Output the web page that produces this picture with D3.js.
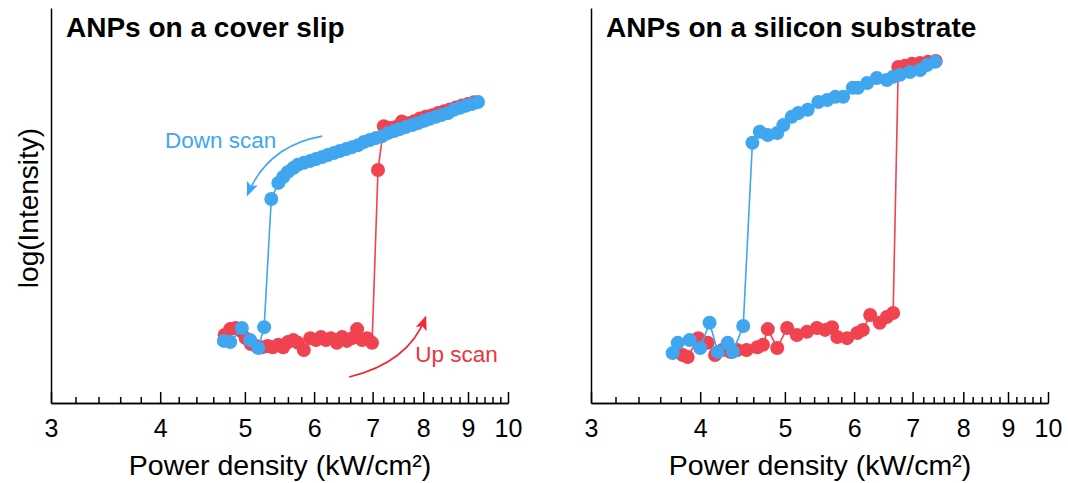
<!DOCTYPE html>
<html>
<head>
<meta charset="utf-8">
<script src="https://cdn.jsdelivr.net/npm/d3@7"></script>
<style>
  body { margin: 0; background: #fff; }
  svg { font-family: "Liberation Sans", Arial, sans-serif; }
  .axis path, .axis line { stroke: #000; stroke-width: 1.5; }
</style>
</head>
<body>
<div id="chart"></div>
<script>
// tick labels
var xTicks = [3, 4, 5, 6, 7, 8, 9, 10];

// ANPs on a cover slip : up scan (red)
var coverUpX = [4.74, 4.81, 4.88, 4.95, 5.01, 5.08, 5.15, 5.23, 5.31, 5.38, 5.46, 5.53, 5.60, 5.68, 5.75, 5.84,
    5.94, 6.03, 6.11, 6.19, 6.27, 6.37, 6.46, 6.54, 6.63, 6.72, 6.81, 6.90, 6.99, 7.10,
    7.21, 7.33, 7.44, 7.56, 7.68, 7.81, 7.93, 8.06, 8.19, 8.32, 8.45, 8.58, 8.72, 8.86, 9.00, 9.14];
var coverUpY = [1.73, 1.88, 1.91, 1.83, 1.65, 1.50, 1.45, 1.42, 1.45, 1.42, 1.48, 1.42, 1.55, 1.60, 1.53, 1.35,
    1.65, 1.60, 1.68, 1.60, 1.65, 1.53, 1.68, 1.58, 1.65, 1.88, 1.60, 1.65, 1.53, 5.93,
    7.04, 7.00, 7.02, 7.16, 7.12, 7.17, 7.24, 7.29, 7.32, 7.38, 7.42, 7.47, 7.52, 7.57, 7.61, 7.65];

// ANPs on a cover slip : down scan (blue)
var coverDownX = [9.24, 9.10, 8.95, 8.81, 8.67, 8.54, 8.40, 8.27, 8.14, 8.02, 7.89, 7.77, 7.64, 7.52, 7.41, 7.29,
    7.18, 7.06, 6.95, 6.84, 6.74, 6.63, 6.53, 6.42, 6.32, 6.22, 6.13, 6.03, 5.94, 5.84, 5.75, 5.68,
    5.60, 5.53, 5.46, 5.36, 5.26, 5.18, 5.07, 4.96, 4.81, 4.73];
var coverDownY = [7.66, 7.61, 7.56, 7.51, 7.46, 7.38, 7.33, 7.28, 7.23, 7.18, 7.12, 7.07, 7.02, 6.97, 6.92, 6.87,
    6.79, 6.74, 6.69, 6.64, 6.56, 6.51, 6.46, 6.41, 6.36, 6.31, 6.26, 6.21, 6.16, 6.11, 6.06, 5.98,
    5.88, 5.75, 5.60, 5.19, 1.93, 1.40, 1.60, 1.91, 1.55, 1.58];

// ANPs on a silicon substrate : up scan (red)
var siliconUpX = [3.82, 3.87, 3.98, 4.08, 4.16, 4.24, 4.33, 4.41, 4.52, 4.65, 4.72, 4.78, 4.90, 5.03, 5.16, 5.30,
    5.44, 5.56, 5.66, 5.74, 5.89, 6.05, 6.14, 6.26, 6.42, 6.54, 6.65, 6.74, 6.86, 6.99, 7.14, 7.29, 7.44];
var siliconUpY = [1.22, 1.17, 1.65, 1.53, 1.22, 1.35, 1.30, 1.35, 1.35, 1.42, 1.48, 1.88, 1.40, 1.91, 1.73, 1.81,
    1.91, 1.86, 1.93, 1.68, 1.65, 1.78, 1.86, 2.24, 2.04, 2.19, 2.29, 8.55, 8.58, 8.63, 8.65, 8.68, 8.70];

// ANPs on a silicon substrate : down scan (blue)
var siliconDownX = [7.43, 7.27, 7.14, 6.95, 6.77, 6.65, 6.54, 6.37, 6.21, 6.06, 5.98, 5.83, 5.71, 5.59, 5.46, 5.31,
    5.18, 5.09, 4.98, 4.90, 4.78, 4.68, 4.59, 4.48, 4.36, 4.30, 4.19, 4.10, 4.00, 3.89, 3.77, 3.72];
var siliconDownY = [8.68, 8.60, 8.47, 8.42, 8.35, 8.30, 8.22, 8.27, 8.14, 8.02, 8.02, 7.79, 7.79, 7.71, 7.66, 7.46,
    7.38, 7.28, 7.07, 6.87, 6.82, 6.90, 6.62, 1.96, 1.30, 1.53, 1.30, 2.04, 1.40, 1.60, 1.53, 1.27];

var red = "#f0424f",
    blue = "#3fa6ef";

var width = 1068,
    height = 483,
    axisY = 403;

var svg = d3.select("#chart").append("svg")
    .attr("width", width)
    .attr("height", height);

svg.append("defs").selectAll("marker")
    .data([["head-blue", blue], ["head-red", "#ee2a33"]])
    .enter().append("marker")
    .attr("id", function (d) { return d[0]; })
    .attr("viewBox", "0 -5 10 10")
    .attr("refX", 8)
    .attr("refY", 0)
    .attr("markerWidth", 9)
    .attr("markerHeight", 9)
    .attr("markerUnits", "strokeWidth")
    .attr("orient", "auto")
    .append("path")
    .attr("d", "M0,-4L10,0L0,4L2,0Z")
    .style("fill", function (d) { return d[1]; });

function zip(xs, ys) {
    return xs.map(function (v, i) { return {x: v, y: ys[i]}; });
}

function drawPanel(left, title, upData, downData, notes) {
    var x = d3.scaleLog().domain([3, 10]).range([left, left + 457]);
    var y = d3.scaleLinear().domain([0, 10.05]).range([axisY, 8]);
    var minor = d3.range(3, 10, 0.2).filter(function (t) {
        return Math.abs(t - Math.round(t)) > 0.01;
    });

    var g = svg.append("g");

    // minor ticks
    g.append("g")
        .attr("class", "axis")
        .attr("transform", "translate(0," + axisY + ")")
        .call(d3.axisBottom(x).tickValues(minor).tickSize(-6).tickSizeOuter(0).tickFormat(""));

    // major ticks + labels
    var xa = g.append("g")
        .attr("class", "axis")
        .attr("transform", "translate(0," + axisY + ")")
        .call(d3.axisBottom(x).tickValues(xTicks).tickSize(-11).tickSizeOuter(0).tickPadding(16)
            .tickFormat(d3.format("d")));
    xa.selectAll("text")
        .style("font-size", "25px")
        .style("fill", "#000");

    g.append("g")
        .attr("class", "axis")
        .call(d3.axisLeft(y).tickValues([]).tickSizeOuter(0))
        .attr("transform", "translate(" + left + ",0)");

    var line = d3.line()
        .x(function (d) { return x(d.x); })
        .y(function (d) { return y(d.y); });

    [[upData, red], [downData, blue]].forEach(function (s) {
        g.append("path")
            .datum(s[0])
            .attr("d", line)
            .style("fill", "none")
            .style("stroke", s[1])
            .style("stroke-width", 1.6);
        g.selectAll(null)
            .data(s[0])
            .enter().append("circle")
            .attr("r", 7)
            .attr("cx", function (d) { return x(d.x); })
            .attr("cy", function (d) { return y(d.y); })
            .style("fill", s[1]);
    });

    g.append("text")
        .attr("x", left + 15)
        .attr("y", 37)
        .style("font-size", "28px")
        .style("font-weight", "bold")
        .text(title);

    g.append("text")
        .attr("x", left + 229)
        .attr("y", 475)
        .style("text-anchor", "middle")
        .style("font-size", "28.5px")
        .text("Power density (kW/cm²)");

    (notes || []).forEach(function (n) {
        g.append("path")
            .attr("d", "M" + x(n.arrow[0]) + "," + y(n.arrow[1]) +
                "Q" + x(n.arrow[2]) + "," + y(n.arrow[3]) +
                " " + x(n.arrow[4]) + "," + y(n.arrow[5]))
            .style("fill", "none")
            .style("stroke", n.arrowColor)
            .style("stroke-width", 1.6)
            .attr("marker-end", "url(#" + n.marker + ")");
        g.append("text")
            .attr("x", x(n.at[0]))
            .attr("y", y(n.at[1]))
            .style("font-size", "22.5px")
            .style("fill", n.color)
            .text(n.label);
    });
}

drawPanel(51, "ANPs on a cover slip", zip(coverUpX, coverUpY), zip(coverDownX, coverDownY), [
    {label: "Down scan", at: [4.05, 6.49], color: blue, arrowColor: blue, marker: "head-blue",
        arrow: [6.13, 6.79, 5.31, 6.54, 5.04, 5.32]},
    {label: "Up scan", at: [7.83, 1.04], color: "#ee3340", arrowColor: "#ee2a33", marker: "head-red",
        arrow: [6.58, 0.66, 7.70, 1.04, 8.04, 2.16]}
]);
drawPanel(591, "ANPs on a silicon substrate", zip(siliconUpX, siliconUpY), zip(siliconDownX, siliconDownY));

svg.append("text")
    .attr("transform", "translate(38,208) rotate(-90)")
    .style("text-anchor", "middle")
    .style("font-size", "28px")
    .text("log(Intensity)");
</script>
</body>
</html>
